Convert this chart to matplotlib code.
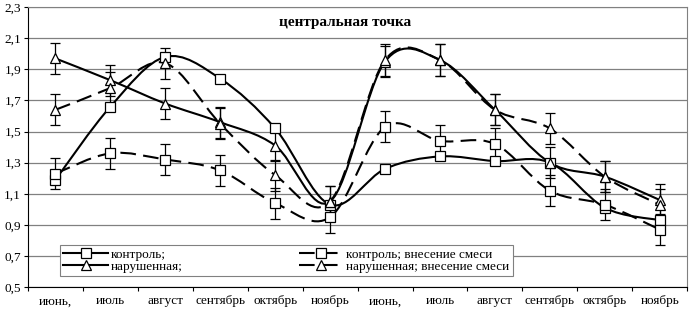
import matplotlib.pyplot as plt
import numpy as np
from matplotlib.path import Path
from matplotlib.patches import PathPatch
from matplotlib.lines import Line2D

plt.rcParams['font.family'] = ['Liberation Serif', 'DejaVu Serif']

months = ['июнь,', 'июль', 'август', 'сентябрь', 'октябрь', 'ноябрь',
          'июнь,', 'июль', 'август', 'сентябрь', 'октябрь', 'ноябрь']

kontrol = [1.19, 1.66, 1.98, 1.84, 1.52, 1.03, 1.26, 1.34, 1.31, 1.30, 1.01, 0.93]
kontrol_sm = [1.23, 1.36, 1.32, 1.25, 1.04, 0.95, 1.53, 1.44, 1.42, 1.12, 1.03, 0.87]
narush = [1.97, 1.83, 1.68, 1.56, 1.41, 1.05, 1.95, 1.96, 1.64, 1.30, 1.21, 1.06]
narush_sm = [1.64, 1.78, 1.94, 1.55, 1.22, 1.05, 1.96, 1.96, 1.64, 1.52, 1.21, 1.03]
err = 0.1


def smooth_path(x, y):
    # сглаживание как в Excel (кривые Безье)
    pts = np.column_stack([x, y])
    n = len(pts)
    verts = [pts[0]]
    codes = [Path.MOVETO]
    for i in range(n - 1):
        p0 = pts[i - 1] if i > 0 else pts[i]
        p1 = pts[i]
        p2 = pts[i + 1]
        p3 = pts[i + 2] if i + 2 < n else pts[i + 1]
        c1 = p1 + (p2 - p0) / 6
        c2 = p2 - (p3 - p1) / 6
        verts += [c1, c2, p2]
        codes += [Path.CURVE4] * 3
    return Path(verts, codes)


fig = plt.figure(figsize=(6.91, 3.10), dpi=100)
ax = fig.add_axes([0.0405, 0.074, 0.954, 0.903])

x = np.arange(len(months))
dash = (0, (7.5, 3.5))
series = [
    (kontrol, 's', '-', False, 'контроль;'),
    (kontrol_sm, 's', dash, True, 'контроль; внесение смеси'),
    (narush, '^', '-', True, 'нарушенная;'),
    (narush_sm, '^', dash, True, 'нарушенная; внесение смеси'),
]

handles = {}
for vals, mk, ls, has_err, lab in series:
    ax.add_patch(PathPatch(smooth_path(x, vals), fill=False, edgecolor='black',
                           linewidth=1.5, linestyle=ls, zorder=3))
    if has_err:
        ax.errorbar(x, vals, yerr=err, fmt='none', ecolor='black',
                    elinewidth=0.9, capsize=3.5, capthick=0.9, zorder=4)
    ax.plot(x, vals, linestyle='none', marker=mk, markersize=7,
            markerfacecolor='white', markeredgecolor='black',
            markeredgewidth=0.9, zorder=5)
    handles[lab] = Line2D([], [], color='black', linewidth=1.5, linestyle=ls,
                          marker=mk, markersize=7, markerfacecolor='white',
                          markeredgecolor='black', markeredgewidth=0.9)

ax.set_xlim(-0.5, len(months) - 0.5)
ax.set_ylim(0.5, 2.3)
ax.set_yticks(np.arange(0.5, 2.31, 0.2))
ax.set_yticklabels([f'{v:.1f}'.replace('.', ',') for v in np.arange(0.5, 2.31, 0.2)])
ax.set_xticks(x)
ax.set_xticklabels(months)
ax.set_xticks(np.arange(-0.5, len(months), 1), minor=True)
ax.tick_params(axis='x', which='major', length=0, pad=6, labelsize=9.5)
ax.tick_params(axis='x', which='minor', length=3, width=0.8)
ax.tick_params(axis='y', length=3, width=0.8, labelsize=9.5, pad=2)

ax.grid(axis='y', color='#808080', linewidth=0.9)
ax.set_axisbelow(True)
for s in ['top', 'right']:
    ax.spines[s].set_color('#808080')
for s in ['left', 'bottom']:
    ax.spines[s].set_color('black')

ax.text(0.481, 0.946, 'центральная точка', transform=ax.transAxes,
        ha='center', va='center', fontsize=11, fontweight='bold')

order = ['контроль;', 'нарушенная;', 'контроль; внесение смеси', 'нарушенная; внесение смеси']
leg = ax.legend([handles[k] for k in order], order, ncol=2, loc='lower left',
                bbox_to_anchor=(0.0486, 0.039, 0.687, 0.111), mode='expand',
                borderaxespad=0, fontsize=9.5, handlelength=3.4, handletextpad=0.2,
                borderpad=0.25, labelspacing=0.0, fancybox=False,
                edgecolor='#808080', framealpha=1)
leg.get_frame().set_linewidth(0.8)

fig.savefig('out.png', dpi=100)
